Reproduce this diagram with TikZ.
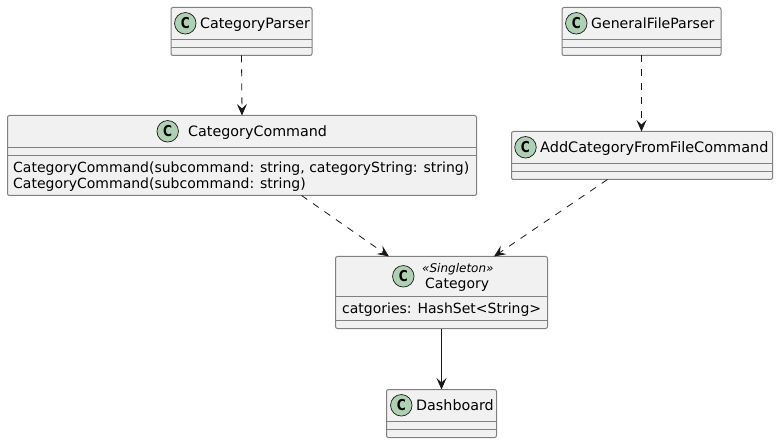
\documentclass[tikz,border=0pt]{standalone}
\usepackage{fontspec}
\setmainfont{DejaVu Sans}
\usetikzlibrary{arrows.meta,calc}
\definecolor{boxfill}{HTML}{F1F1F1}
\definecolor{boxline}{HTML}{808080}
\definecolor{ink}{HTML}{181818}
\definecolor{spot}{HTML}{ADD1B2}
\tikzset{
  x=1pt,y=-1pt,
  classbox/.style={draw=boxline,fill=boxfill,line width=1pt,rounded corners=2pt,inner sep=0pt,outer sep=0pt},
  sep/.style={draw=boxline,line width=1pt},
  spotc/.style={circle,draw=ink,fill=spot,line width=0.7pt,minimum size=21.5pt,inner sep=0pt,font=\fontsize{15}{15}\selectfont\bfseries,text=black},
  label/.style={inner sep=0pt,font=\fontsize{14}{16}\selectfont,text=black},
  big/.style={font=\fontsize{#1}{16}\selectfont},
  dep/.style={draw=ink,line width=0.8pt,dash pattern=on 7pt off 7pt,-{Stealth[length=11.5pt,width=10pt,inset=4.5pt]}},
  assoc/.style={draw=ink,line width=1pt,-{Stealth[length=11.5pt,width=10pt,inset=4.5pt]}},
}
\newcommand{\classbox}[5]{% name, x0, y0, x1, y1
  \node[classbox,minimum width=#4pt-#2pt,minimum height=#5pt-#3pt,anchor=north west] (#1) at (#2,#3) {};
}
\newcommand{\cee}{\scalebox{0.82}[1]{C}}
\begin{document}
\begin{tikzpicture}
\useasboundingbox (0,0) rectangle (778,443);
\fill[white] (0,0) rectangle (778,443);
% CategoryParser
\classbox{cp}{171}{7.5}{312}{55.5}
\draw[sep] (171,39.5) -- (312,39.5) (171,47.5) -- (312,47.5);
\node[spotc] (cpc) at (185.3,23.3) {\cee};
\node[label,big=14.25,anchor=base west] (cpt) at (200,28.5) {CategoryParser};
% GeneralFileParser
\classbox{gp}{562}{7.5}{721}{55.5}
\draw[sep] (562,39.5) -- (721,39.5) (562,47.5) -- (721,47.5);
\node[spotc] (gpc) at (576.3,23.3) {\cee};
\node[label,big=14.1,anchor=base west] (gpt) at (591,28.5) {GeneralFileParser};
% CategoryCommand
\classbox{cc}{7.5}{115.5}{476.5}{195.5}
\draw[sep] (7.5,147.5) -- (476.5,147.5) (7.5,155.5) -- (476.5,155.5);
\node[spotc] (ccc) at (167.7,131.3) {\cee};
\node[label,big=14.3,anchor=base west] (cct) at (188,136.3) {CategoryCommand};
\node[label,anchor=base west] (ccm1) at (13,172.5) {CategoryCommand(subcommand: string, categoryString: string)};
\node[label,anchor=base west] (ccm2) at (13,188.5) {CategoryCommand(subcommand: string)};
% AddCategoryFromFileCommand
\classbox{ac}{511.5}{131.5}{772.5}{179.5}
\draw[sep] (511.5,163.5) -- (772.5,163.5) (511.5,171.5) -- (772.5,171.5);
\node[spotc] (acc) at (525.5,147.3) {\cee};
\node[label,big=14.45,anchor=base west] (act) at (540,152.5) {AddCategoryFromFileCommand};
% Category
\classbox{ca}{335.5}{256.5}{547.5}{328.5}
\draw[sep] (335.5,296.5) -- (547.5,296.5) (335.5,320.5) -- (547.5,320.5);
\node[spotc] (cac) at (403.3,276.3) {\cee};
\node[label,anchor=base west,font=\fontsize{12}{14}\selectfont\itshape] (cas) at (422,272.5) {«Singleton»};
\node[label,anchor=base west] (cat) at (425,288.5) {Category};
\node[label,anchor=base west] (cam) at (342,313) {catgories: HashSet<String>};
% Dashboard
\classbox{da}{386.5}{389.5}{496.5}{437.5}
\draw[sep] (386.5,421.5) -- (496.5,421.5) (386.5,429.5) -- (496.5,429.5);
\node[spotc] (dac) at (401.3,405.3) {\cee};
\node[label,big=14.3,anchor=base west] (dat) at (416,410.5) {Dashboard};
% connectors
\draw[dep] (cp.south) -- (cc.north);
\draw[dep] (gp.south) -- ([xshift=-0.5pt]ac.north);
\draw[dep] ([xshift=59.5pt]cc.south) -- ([xshift=-52.5pt]ca.north);
\draw[dep] ([xshift=-34.5pt]ac.south) -- ([xshift=52.5pt]ca.north);
\draw[assoc] (ca.south) -- (da.north);
\end{tikzpicture}
\end{document}
